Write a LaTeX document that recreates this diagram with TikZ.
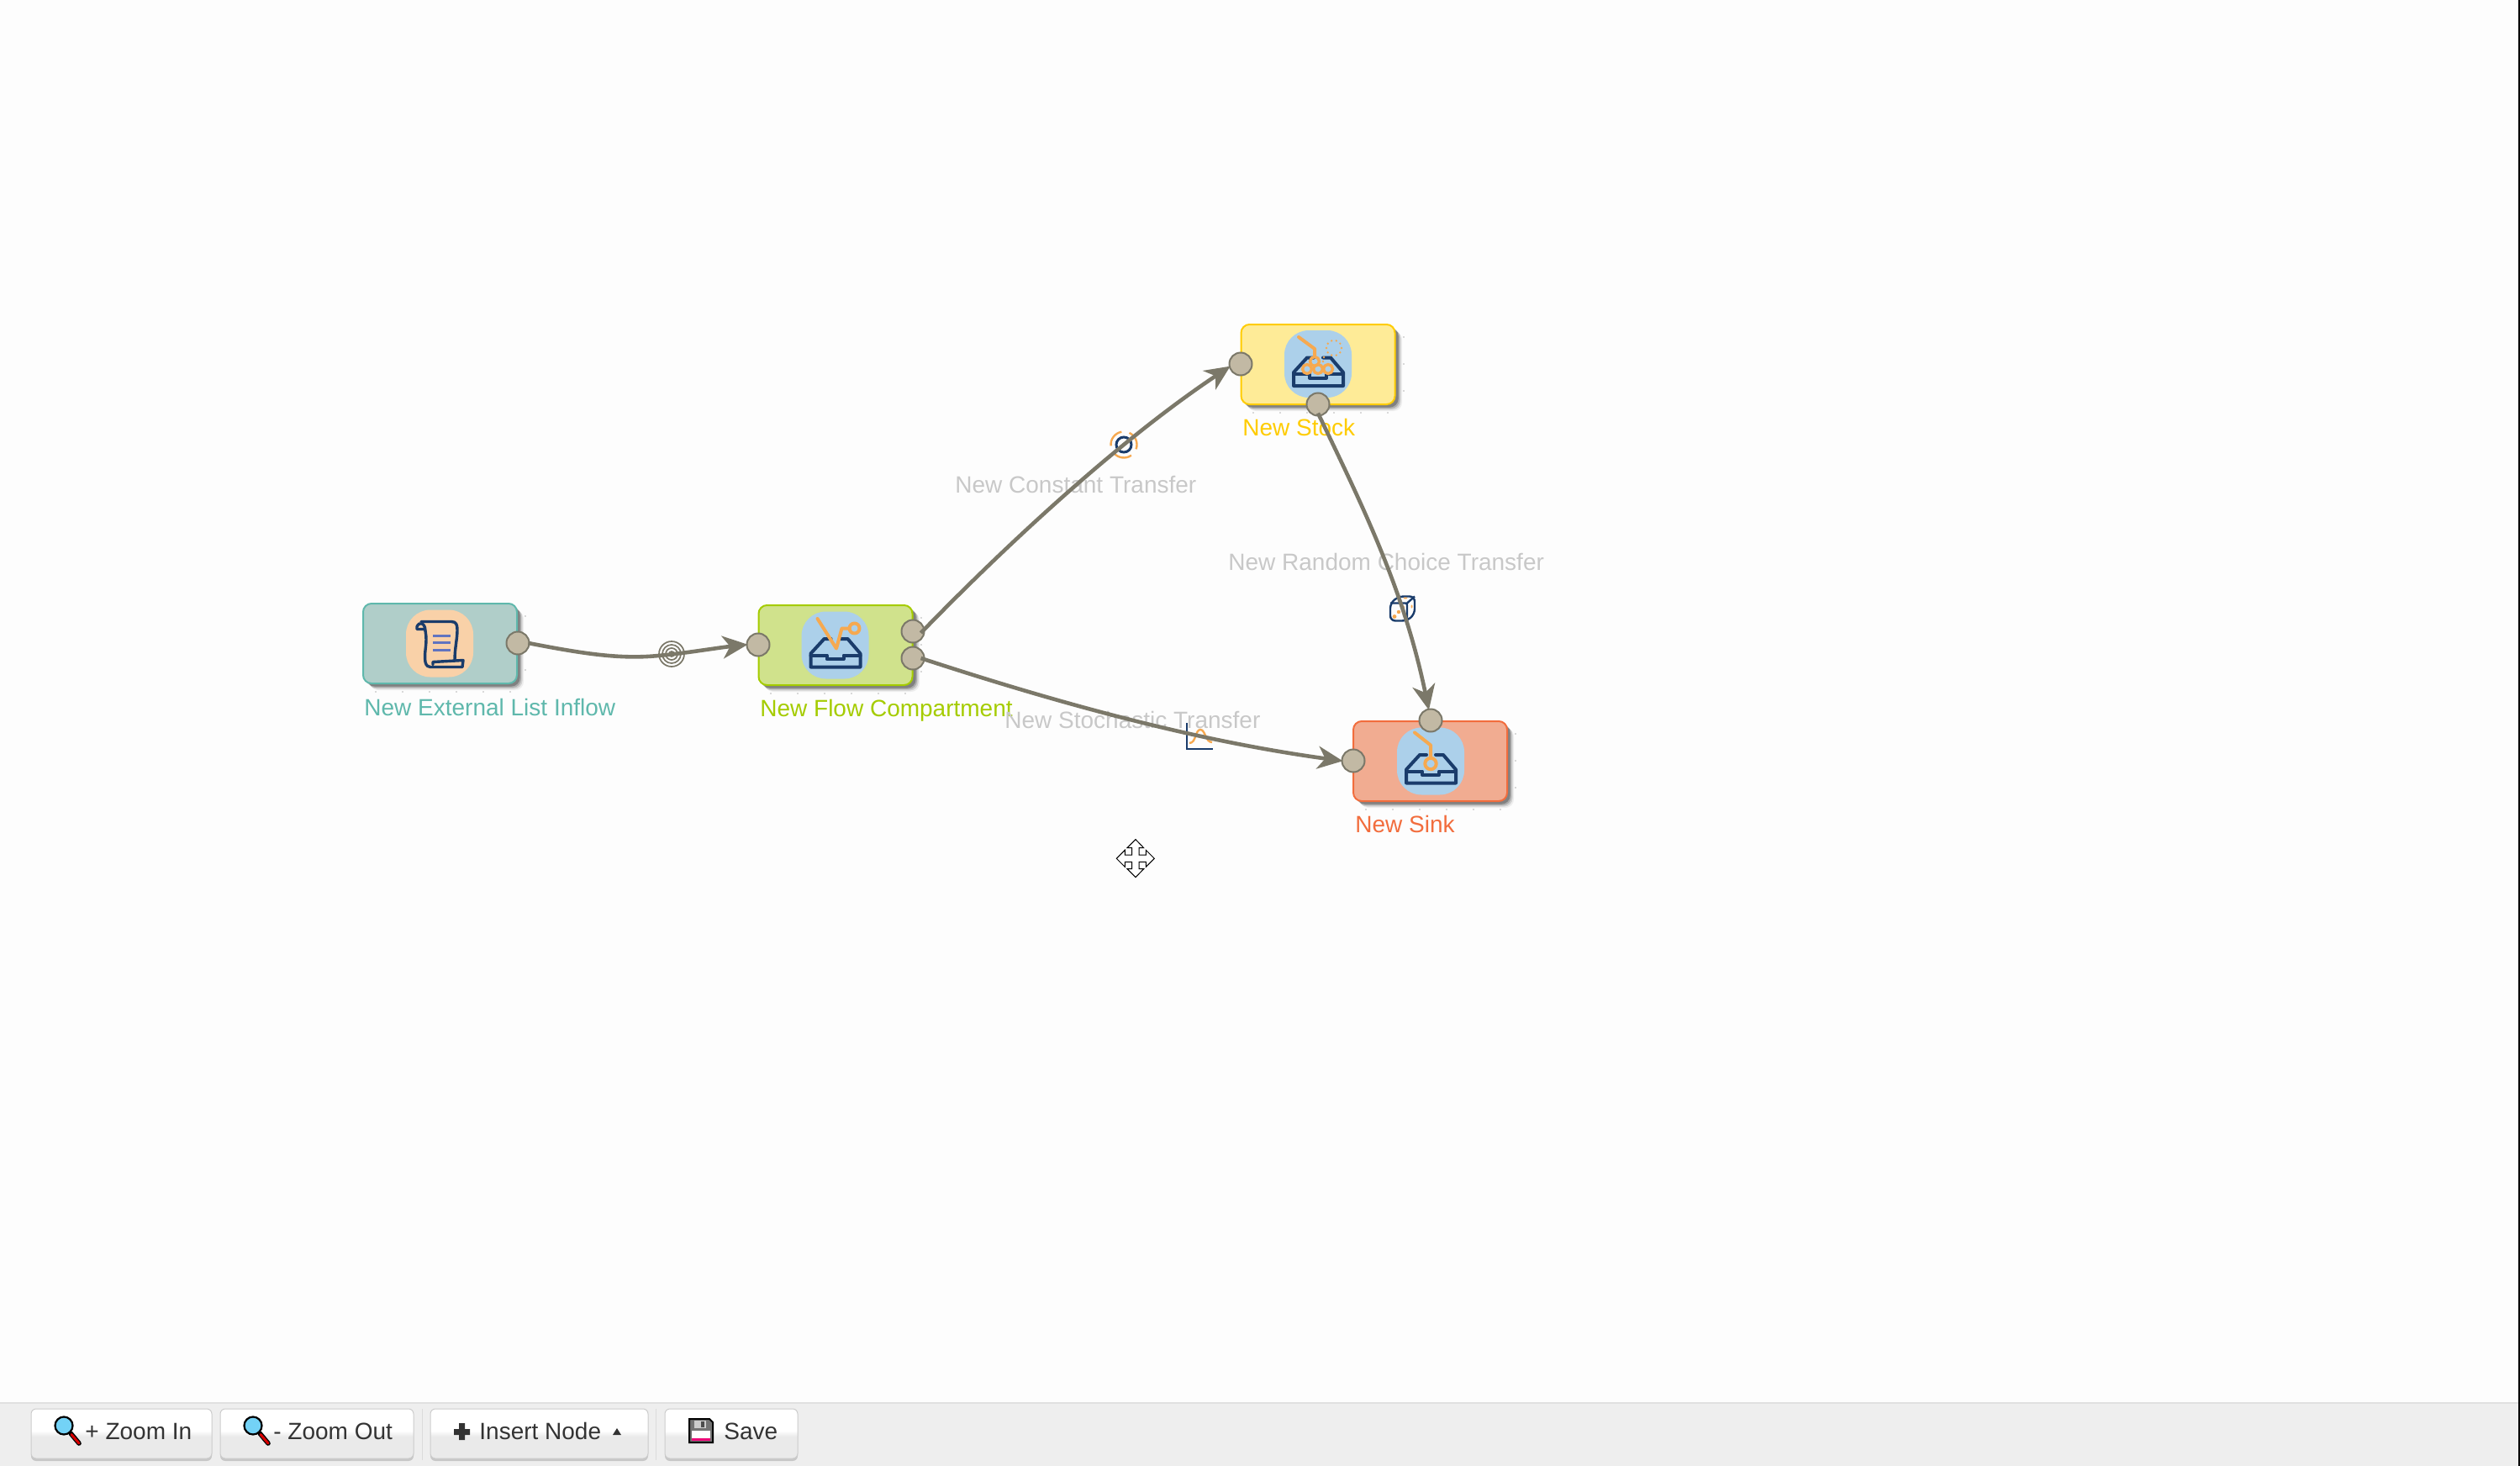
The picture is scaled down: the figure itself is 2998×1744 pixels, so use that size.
\documentclass[tikz,border=0pt]{standalone}
\usepackage{fontspec}
\setmainfont{Liberation Sans}
\usetikzlibrary{arrows.meta,calc}
\definecolor{bgc}{HTML}{FDFDFD}
\definecolor{linec}{HTML}{7B7869}
\definecolor{portf}{HTML}{C2B9A4}
\definecolor{navy}{HTML}{1A3C6B}
\definecolor{orng}{HTML}{F6A950}
\definecolor{iblue}{HTML}{ACD0EA}
\definecolor{icream}{HTML}{F9D1A8}
\definecolor{tealB}{HTML}{5FB8AC}\definecolor{tealF}{HTML}{B0CEC9}
\definecolor{limeB}{HTML}{A5CC00}\definecolor{limeF}{HTML}{D0E28C}
\definecolor{yelB}{HTML}{FFCC00}\definecolor{yelF}{HTML}{FEEB97}
\definecolor{redB}{HTML}{F26D3D}\definecolor{redF}{HTML}{F1AC91}
\definecolor{tgray}{HTML}{C8C8C8}
\definecolor{barf}{HTML}{EEEEEE}
\definecolor{btxt}{HTML}{333333}
\pgfdeclareverticalshading{btnshade}{100bp}{color(0bp)=(barf!96!gray); color(47bp)=(barf!96!gray); color(53bp)=(white); color(100bp)=(white)}
\tikzset{
  x=0.5pt,y=-0.5pt,
  box/.style={rectangle,rounded corners=5pt,line width=1pt,minimum width=91.5pt,minimum height=47.5pt,inner sep=0pt},
  iconbg/.style={rectangle,rounded corners=14.5pt,minimum width=40pt,minimum height=40pt,inner sep=0pt,draw=none},
  port/.style={circle,draw=linec,fill=portf,line width=1pt,minimum size=13.5pt,inner sep=0pt},
  conn/.style={draw=linec,line width=2.3pt,shorten >=-1pt,-{Stealth[length=15pt,width=13.5pt,inset=4.5pt]}},
  lab/.style={anchor=base west,inner sep=0pt,font=\fontsize{14pt}{17pt}\selectfont},
  tlab/.style={lab,text=tgray},
  btn/.style={rectangle,rounded corners=3pt,draw=black!20,line width=.5pt,shading=btnshade,inner sep=0pt},
  btxtn/.style={anchor=base west,inner sep=0pt,text=btxt,font=\fontsize{14pt}{17pt}\selectfont},
  navyl/.style={draw=navy,line width=2pt,line join=round,line cap=round},
  orl/.style={draw=orng,line width=2pt,line join=round,line cap=round},
  pics/tray/.style={code={
    \draw[navyl] (-5,-7.5) -- (-13,-7.5) -- (-29,10) -- (-29,26) -- (30,26) -- (30,10) -- (15,-7.5) -- (6,-7.5);
    \draw[navyl] (-29,12) -- (-10,12) -- (-10,16.5) -- (10,16.5) -- (10,12) -- (30,12);
  }},
  pics/lens/.style={code={
    \draw[black,line width=2.8pt,line cap=round] (8,9) -- (18,21);
    \draw[red!85!black,line width=1.5pt,line cap=round] (9,10.5) -- (18,21);
    \draw[black,line width=1.1pt,fill=cyan!55] (0,0) circle (10.5);
  }}
}
\newcommand{\shadowbox}[4]{%
  \foreach \o/\op in {8/.06,6.5/.12,5/.18,3.5/.25}{
    \fill[black,opacity=\op,rounded corners=5pt] (#1+\o,#2+\o) rectangle (#3+\o,#4+\o);
  }%
  \foreach \tx in {0,32,...,160}{
    \fill[black!15] (#1+14+\tx,#4+9) rectangle +(2,2);
  }%
  \foreach \ty in {0,32,64}{
    \fill[black!15] (#3+9,#2+14+\ty) rectangle +(2,2);
  }%
}
\begin{document}
\begin{tikzpicture}
\useasboundingbox (0,0) rectangle (2998,1744);
\fill[bgc] (0,0) rectangle (2998,1744);

% shadows
\shadowbox{432}{718}{615}{813}
\shadowbox{902}{720}{1086}{815}
\shadowbox{1476}{386}{1660}{481}
\shadowbox{1610}{858}{1793}{953}

% boxes
\node[box,draw=tealB,fill=tealF] (inflow) at (523.5,765.5) {};
\node[box,draw=limeB,fill=limeF] (flow) at (994,767.5) {};
\node[box,draw=yelB,fill=yelF] (stock) at (1568,433.5) {};
\node[box,draw=redB,fill=redF] (sink) at (1701.5,905.5) {};

% labels
\node[lab,text=tealB] (linflow) at (433,851) {New External List Inflow};
\node[lab,text=limeB] (lflow) at (904,852) {New Flow Compartment};
\node[lab,text=yelB] (lstock) at (1478,518) {New Stock};
\node[lab,text=redB] (lsink) at (1612,990) {New Sink};
\node[tlab] (lconst) at (1136,586) {New Constant Transfer};
\node[tlab] (lrand) at (1461,678) {New Random Choice Transfer};
\node[tlab] (lstoch) at (1195,866) {New Stochastic Transfer};

% icon: scroll
\node[iconbg,fill=icream] (ic1) at (523,765.5) {};
\begin{scope}[shift={(ic1.center)}]
  \draw[navyl,line width=1.7pt] (-17,-15) .. controls (-17,-24) and (-24,-27) .. (-27,-20) -- (-27,-17) -- (-17,-17);
  \draw[navyl,line width=1.7pt] (-22,-26) -- (14,-26) .. controls (20,-26) and (21,-22) .. (21,-16) .. controls (21,-5) and (18,5) .. (18,20);
  \draw[navyl,line width=1.7pt] (-17,-15) .. controls (-14,0) and (-19,10) .. (-17,22) .. controls (-16,27) and (-13,28) .. (-11,28) -- (27,28) -- (28,20) -- (-8,22) -- (-8,25);
  \foreach \yy in {-9.5,-1,8}{\draw[draw=iblue!70!blue!80!black,line width=1.5pt] (-8,\yy) -- (13,\yy);}
\end{scope}

% icon: flow compartment
\node[iconbg,fill=iblue] (ic2) at (993.5,767.5) {};
\begin{scope}[shift={(ic2.center)}]
  \pic {tray};
  \draw[orl] (-21,-31.5) -- (1.5,4) -- (8,-20) -- (17,-20);
  \draw[orl] (23,-20) circle (6);
\end{scope}

% icon: stock
\node[iconbg,fill=iblue] (ic3) at (1568,433) {};
\begin{scope}[shift={(ic3.center)}]
  \pic {tray};
  \draw[orl] (-23,-32) -- (-4,-18) -- (-4,-9);
  \foreach \cx/\cy in {-13/6,-4/-3,0/6,12/6}{\draw[orl,line width=1.7pt] (\cx,\cy) circle (5.5);}
  \foreach \an in {0,36,...,324}{\fill[orng] (19,-19) ++(\an:9 and 9) circle (1.3);}
  \fill[orng] (7,-8) circle (1.3) (6,-3) circle (1.3);
\end{scope}

% icon: sink
\node[iconbg,fill=iblue] (ic4) at (1702,905.5) {};
\begin{scope}[shift={(ic4.center)}]
  \pic {tray};
  \draw[orl] (-19,-34) -- (0,-19) -- (0,-3.5);
  \draw[orl] (0,3) circle (6.7);
\end{scope}

% ports
\node[port] (pi) at (616,765) {};
\node[port] (pfl) at (902,767) {};
\node[port] (pfr1) at (1086,751) {};
\node[port] (pfr2) at (1086,783) {};
\node[port] (psl) at (1476,433) {};
\node[port] (psb) at (1568,481) {};
\node[port] (pkl) at (1610,905) {};
\node[port] (pkt) at (1702,857) {};

% transfer icons (under connectors)
\node[circle,inner sep=0pt,minimum size=1pt] (tinflow) at (799,778) {};
\foreach \rr/\cc in {15/linec,11/linec,7/linec,3/linec}{\draw[\cc,line width=.85pt] (tinflow) circle (\rr);}
\coordinate (tconst) at (1337,529);
\draw[navy,line width=1.5pt] (tconst) circle (9);
\foreach \st in {20,140,260}{
  \draw[orng,line width=1.2pt] ($(tconst)+(\st:15.5 and 15.5)$) arc[start angle=\st,delta angle=-85,radius=15.5];
}
\coordinate (tdice) at (1668,724.5);
\begin{scope}[shift={(tdice)}]
  \draw[navy,line width=1.2pt,line join=round,rounded corners=3pt] (-14,-7) -- (-4,-15) -- (15,-15) -- (15,6) -- (6,14) -- (-14,14) -- cycle;
  \draw[navy,line width=1.2pt,line join=round,rounded corners=1pt] (-14,-7) -- (6,-7) -- (6,14);
  \draw[navy,line width=1.2pt] (6,-7) -- (15,-15);
  \fill[orng] (-9,9) circle (2.4) (-4,3.5) circle (2.2) (1,-2) circle (2) (4,-13) ellipse (2.3 and 1) (11.5,-3) ellipse (1 and 2);
\end{scope}
\coordinate (tstoch) at (1412,891);
\begin{scope}[shift={(tstoch)}]
  \draw[orng,line width=1.2pt] (3,-7) .. controls (11,-7) and (10,-23) .. (16,-23) .. controls (22,-23) and (22,-8) .. (30,-8);
  \draw[navy,line width=1.2pt] (0,-31) -- (0,0) -- (31,0);
\end{scope}

% connectors
\draw[conn] ([xshift=-1pt]pi.east) .. controls (690,777) and (730,783) .. (770,781) .. controls (805,779) and (850,771) .. (pfl.west);
\draw[conn] ([xshift=-2.5pt,yshift=-1pt]pfr1.east) .. controls (1210,635) and (1340,518) .. (psl.195);
\draw[conn] ([xshift=-2.5pt]pfr2.east) .. controls (1300,850) and (1450,885) .. (pkl.west);
\draw[conn] ([yshift=2pt]psb.south) .. controls (1620,600) and (1670,700) .. (pkt.100);

% move cursor
\begin{scope}[shift={(1351,1021)},scale=0.3333]
  \draw[black,fill=white,line width=.5pt] (0,-67) -- (29,-37) -- (12,-37) -- (12,-12) -- (37,-12) -- (37,-29) -- (67,1) -- (37,31) -- (37,13) -- (12,13) -- (12,38) -- (29,38) -- (0,68) -- (-30,38) -- (-13,38) -- (-13,13) -- (-38,13) -- (-38,31) -- (-68,1) -- (-38,-29) -- (-38,-12) -- (-13,-12) -- (-13,-37) -- (-30,-37) -- cycle;
\end{scope}

% toolbar
\fill[barf] (0,1669) rectangle (2998,1744);
\draw[black!12,line width=1pt] (0,1669) -- (2998,1669);
\draw[black!14,line width=.5pt] (502,1676) -- (502,1737);
\draw[black!14,line width=.5pt] (780,1676) -- (780,1737);
\foreach \a/\b in {37/252,262/492,512/771,791/949}{
  \fill[black!22,rounded corners=3pt] (\a,1679) rectangle (\b,1738);
}
\node[btn,minimum width=107.5pt,minimum height=29.5pt] (b1) at (144.5,1705.5) {};
\node[btn,minimum width=115pt,minimum height=29.5pt] (b2) at (377,1705.5) {};
\node[btn,minimum width=129.5pt,minimum height=29.5pt] (b3) at (641.5,1705.5) {};
\node[btn,minimum width=79pt,minimum height=29.5pt] (b4) at (870,1705.5) {};
\pic at (76,1696) {lens};
\pic at (301,1696) {lens};
\node[btxtn] (t1) at (101,1712) {+ Zoom In};
\node[btxtn] (t2) at (325,1712) {- Zoom Out};
\node[btxtn] (t3) at (570,1712) {Insert Node};
\node[btxtn] (t4) at (861,1712) {Save};
\fill[btxt] (546,1693) rectangle (553,1713) (540,1700) rectangle (559,1707);
\fill[btxt] (729,1707) -- (739,1707) -- (734,1699) -- cycle;
\draw[black,line width=1pt,fill=black!55] (820,1688) -- (844,1688) -- (848,1692) -- (848,1716) -- (820,1716) -- cycle;
\fill[white] (823,1702) rectangle (845,1714);
\fill[magenta!80!red] (823,1711) rectangle (845,1714);
\fill[black!20] (826,1690) rectangle (840,1699);
\fill[black!70] (834,1691) rectangle (838,1698);

% right window edge
\fill[black] (2996,0) rectangle (2998,1744);
\end{tikzpicture}
\end{document}
